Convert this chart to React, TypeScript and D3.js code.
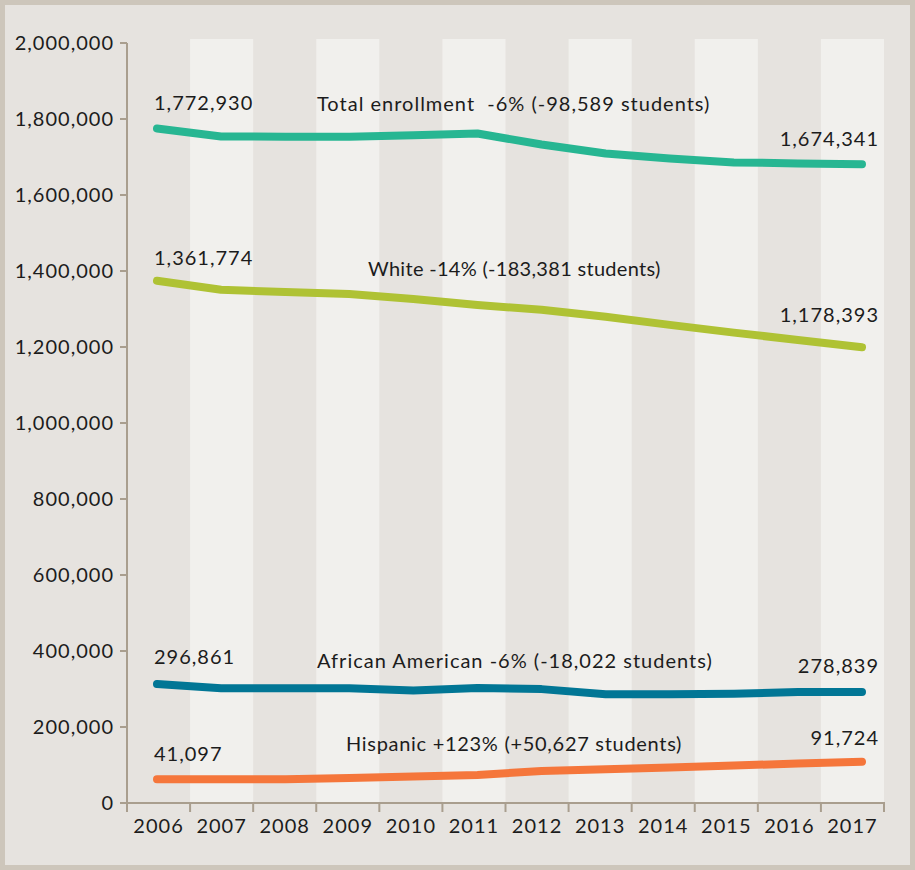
import React from "react";
import * as d3 from "d3";

const years = [2006, 2007, 2008, 2009, 2010, 2011, 2012, 2013, 2014, 2015, 2016, 2017];
const totalValues = [1775000, 1754000, 1753400, 1753400, 1757100, 1761800, 1732900, 1709000, 1696000, 1685800, 1683200, 1680800];
const whiteValues = [1374500, 1350500, 1345000, 1339700, 1326300, 1310300, 1297900, 1279500, 1258200, 1237900, 1218400, 1199200];
const africanAmericanValues = [313200, 302100, 301800, 301800, 296000, 302600, 299700, 286100, 286100, 287400, 292100, 292100];
const hispanicValues = [62400, 62400, 62400, 65800, 69700, 73700, 84200, 88700, 93200, 98700, 103700, 108700];
const yTicks = [0, 200000, 400000, 600000, 800000, 1000000, 1200000, 1400000, 1600000, 1800000, 2000000];

const seriesNames = ["Total enrollment", "White", "African American", "Hispanic"];
const seriesColors = ["#27b692", "#afc234", "#017695", "#f5763b"];
const seriesStartLabels = ["1,772,930", "1,361,774", "296,861", "41,097"];
const seriesEndLabels = ["1,674,341", "1,178,393", "278,839", "91,724"];
const seriesNotes = [
  "Total enrollment  -6% (-98,589 students)",
  "White -14% (-183,381 students)",
  "African American -6% (-18,022 students)",
  "Hispanic +123% (+50,627 students)",
];
// annotation placement (text only)
const noteX = [317, 368, 317, 346];
const noteY = [111, 276, 668, 751];
const noteSpacing = [1, 0.3, 1, 0.7];
const startDy = [-19, -16, -20, -18];
const endDy = [-18, -25, -19, -17];

const W = 915;
const H = 870;
const FONT = "Lato, 'Open Sans', sans-serif";
const LS = 1;

export default function App() {
  const allValues = [totalValues, whiteValues, africanAmericanValues, hispanicValues];
  const yScale = d3.scaleLinear().domain([0, 2000000]).range([803, 43]);
  const band = d3.scaleBand<number>().domain(years).range([127, 884]).padding(0);
  const xLine = d3.scaleLinear().domain([years[0], years[years.length - 1]]).range([157, 862]);
  const line = d3
    .line<number>()
    .x((_, i) => xLine(years[i]))
    .y((d) => yScale(d));
  const fmt = d3.format(",");
  const axisColor = "#a99e8e";
  const textColor = "#1c1c1c";
  const boundaries = years.map((y) => band(y) as number).concat([884]);

  return (
    <svg
      width={W}
      height={H}
      style={{ position: "absolute", left: 0, top: 0, display: "block" }}
      fontFamily={FONT}
      letterSpacing={LS}
    >
      <rect x={0} y={0} width={W} height={H} fill="#e6e3df" />
      <rect x={2.5} y={2.5} width={W - 5} height={H - 5} fill="none" stroke="#cdc6bb" strokeWidth={5} />
      {years.map((yr, i) =>
        i % 2 === 1 ? (
          <rect key={yr} x={band(yr)} y={39} width={band.bandwidth()} height={803 - 39} fill="#f1f0ed" />
        ) : null
      )}
      {/* y axis */}
      <line x1={127} x2={127} y1={yScale(2000000)} y2={812} stroke={axisColor} strokeWidth={2} />
      {yTicks.map((t) => (
        <g key={t}>
          <line x1={120} x2={127} y1={yScale(t)} y2={yScale(t)} stroke={axisColor} strokeWidth={2} />
          <text x={114} y={yScale(t)} dy="0.35em" textAnchor="end" fontSize={20} fill={textColor}>
            {fmt(t)}
          </text>
        </g>
      ))}
      {/* x axis */}
      <line x1={126} x2={885} y1={803} y2={803} stroke={axisColor} strokeWidth={2} />
      {boundaries.map((bx, i) => (
        <line key={i} x1={bx} x2={bx} y1={803} y2={812} stroke={axisColor} strokeWidth={2} />
      ))}
      {years.map((yr) => (
        <text
          key={yr}
          x={(band(yr) as number) + band.bandwidth() / 2}
          y={833}
          textAnchor="middle"
          fontSize={20}
          fill={textColor}
        >
          {yr}
        </text>
      ))}
      {/* series */}
      {allValues.map((vals, s) => (
        <g key={seriesNames[s]}>
          <path
            d={line(vals) || ""}
            fill="none"
            stroke={seriesColors[s]}
            strokeWidth={8}
            strokeLinecap="round"
            strokeLinejoin="round"
          />
          <text x={xLine(years[0]) - 3} y={yScale(vals[0]) + startDy[s]} fontSize={20} fill={textColor}>
            {seriesStartLabels[s]}
          </text>
          <text
            x={xLine(years[years.length - 1]) + 17}
            y={yScale(vals[vals.length - 1]) + endDy[s]}
            textAnchor="end"
            fontSize={20}
            fill={textColor}
          >
            {seriesEndLabels[s]}
          </text>
          <text
            x={noteX[s]}
            y={noteY[s]}
            fontSize={20}
            fill={textColor}
            letterSpacing={noteSpacing[s]}
            style={{ whiteSpace: "pre" }}
          >
            {seriesNotes[s]}
          </text>
        </g>
      ))}
    </svg>
  );
}
